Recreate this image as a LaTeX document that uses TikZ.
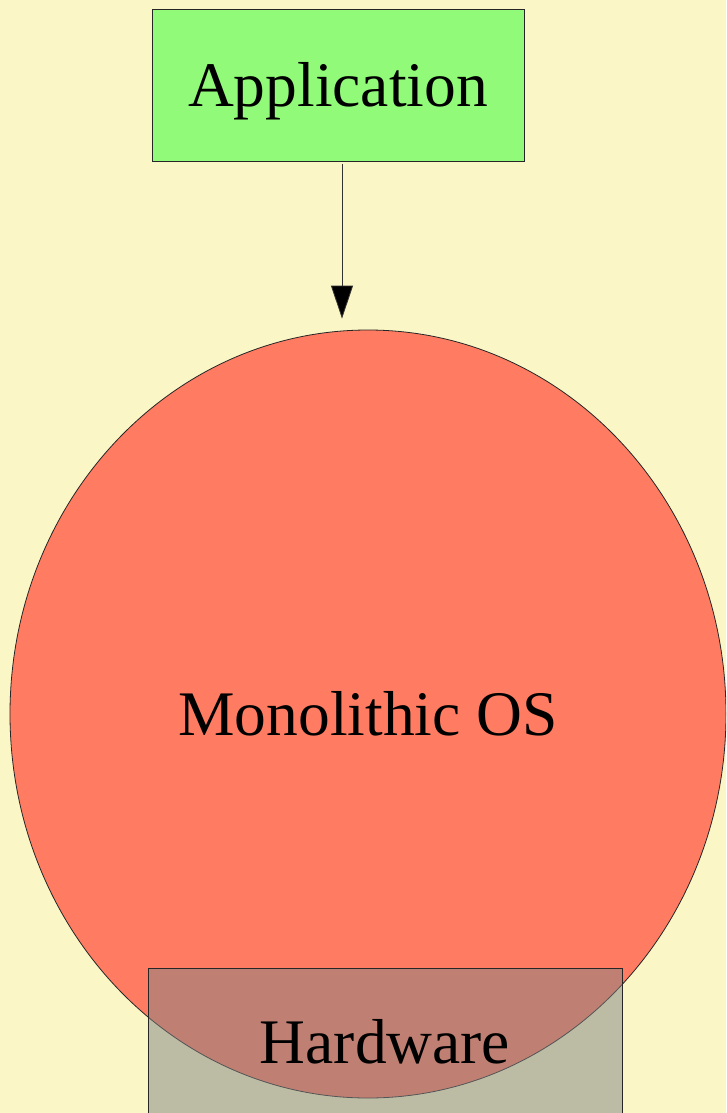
\documentclass[tikz,border=0pt]{standalone}
\usepackage{fontspec}
\setmainfont{LiberationSerif}[Extension=.ttf, UprightFont=*-Regular]
\usetikzlibrary{shapes.geometric,arrows.meta}
\definecolor{bgyellow}{RGB}{250,246,198}
\definecolor{appgreen}{RGB}{145,250,120}
\definecolor{ossalmon}{RGB}{255,124,98}
\definecolor{hwgray}{RGB}{128,132,132}
\tikzset{
  lbl/.style={font=\rmfamily\fontsize{63.5}{70}\selectfont, text=black, inner sep=0pt},
  boxed/.style={draw=black!85, line width=0.8pt},
}
\begin{document}
\begin{tikzpicture}[x=1pt,y=-1pt]
  \fill[bgyellow] (0,0) rectangle (726,1113);
  \useasboundingbox (0,0) rectangle (726,1113);
  \clip (0,0) rectangle (726,1113);
  % user space
  \node[boxed, lbl, fill=appgreen, rectangle, minimum width=372pt, minimum height=152pt,
        text height=44pt, text depth=0pt] (app) at (338,85) {Application};
  % kernel
  \node[boxed, lbl, fill=ossalmon, ellipse, minimum width=716pt, minimum height=768pt,
        text height=42pt, text depth=0pt] (os) at (368,714) {Monolithic OS};
  % hardware layer, half transparent over the kernel
  \node[boxed, lbl, fill=hwgray, fill opacity=0.5, text opacity=1, rectangle,
        minimum width=474pt, minimum height=170pt,
        text height=20pt, text depth=0pt] (hw) at (385,1053) {Hardware};
  % call from the application into the kernel
  \draw[black!80, line width=0.8pt, shorten <=3pt, shorten >=11pt,
        -{Triangle[width=22pt,length=33pt,fill=black]}]
        ([xshift=4pt]app.south) -- ([xshift=4pt]app.south |- os.north);
\end{tikzpicture}
\end{document}
